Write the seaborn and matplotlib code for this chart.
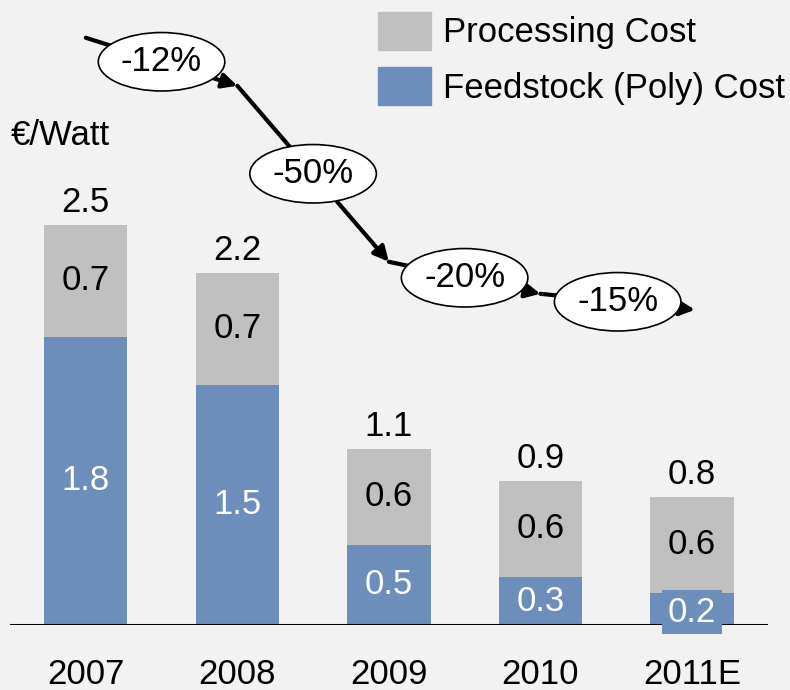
import numpy as np
import matplotlib
matplotlib.use("Agg")
import matplotlib.pyplot as plt
import seaborn as sns
import pandas as pd
from matplotlib.patches import Patch

# data
years = ["2007", "2008", "2009", "2010", "2011E"]
feedstock = [1.8, 1.5, 0.5, 0.3, 0.2]
processing = [0.7, 0.7, 0.6, 0.6, 0.6]
totals = [2.5, 2.2, 1.1, 0.9, 0.8]
changes = ["-12%", "-50%", "-20%", "-15%"]

bg = "#f2f2f2"
gray = "#c0c0c0"
blue = "#6d8dbb"

sns.set_style("white")
plt.rcParams["font.family"] = ["Liberation Sans", "DejaVu Sans"]
plt.rcParams["text.color"] = "black"
plt.rcParams["xtick.color"] = "black"

df = pd.DataFrame({"year": years, "feed": feedstock, "proc": processing, "total": totals})

fig = plt.figure(figsize=(7.9, 6.9), dpi=100, facecolor=bg)
ax = fig.add_axes([0.0127, 0.0942, 0.959, 0.9058])
ax.set_facecolor(bg)

# stacked bars: total in gray, feedstock over it in blue
sns.barplot(data=df, x="year", y="total", color=gray, width=0.55, saturation=1,
            linewidth=0, ax=ax)
sns.barplot(data=df, x="year", y="feed", color=blue, width=0.55, saturation=1,
            linewidth=0, ax=ax)

ax.set_xlim(-0.5, 4.5)
ax.set_ylim(0, 3.906)
ax.axhline(0, color="black", lw=2.2, zorder=5)
for s in ax.spines.values():
    s.set_visible(False)
ax.set_yticks([])
ax.set_xlabel("")
ax.set_ylabel("")
ax.tick_params(axis="x", length=0, pad=24, labelsize=25, labelcolor="black")

fs = 25
for i in range(len(years)):
    f, p, t = feedstock[i], processing[i], totals[i]
    ax.annotate(f"{t:.1f}", (i, t), xytext=(0, 4), textcoords="offset points",
                ha="center", va="bottom", fontsize=fs)
    ax.text(i, f + p / 2, f"{p:.1f}", ha="center", va="center", fontsize=fs)
    if f < 0.25:
        ax.text(i, f / 2 - 0.02, f"{f:.1f}", ha="center", va="center", fontsize=fs,
                color="white", zorder=6,
                bbox=dict(boxstyle="square,pad=0.16", fc=blue, ec="none"))
    else:
        ax.text(i, f / 2, f"{f:.1f}", ha="center", va="center", fontsize=fs, color="white")

# trend arrows with ellipse labels
offset = 1.17
pts = [(i, t + offset) for i, t in enumerate(totals)]
for k, lab in enumerate(changes):
    (x0, y0), (x1, y1) = pts[k], pts[k + 1]
    if k == len(changes) - 1:
        x1 += 0.02
    ax.annotate("", xy=(x1, y1), xytext=(x0, y0),
                arrowprops=dict(arrowstyle="-|>", lw=3, color="black",
                                mutation_scale=22, shrinkA=0, shrinkB=0),
                zorder=7, annotation_clip=False)
    ax.text((x0 + x1) / 2, (y0 + y1) / 2, lab, ha="center", va="center", fontsize=fs,
            zorder=8, bbox=dict(boxstyle="ellipse,pad=0.12", fc="white", ec="black", lw=1.2))

ax.text(0.014, 0.804, "€/Watt", transform=fig.transFigure, fontsize=fs, va="center")

handles = [Patch(color=gray, label="Processing Cost"),
           Patch(color=blue, label="Feedstock (Poly) Cost")]
fig.legend(handles=handles, loc="upper right", bbox_to_anchor=(1.024, 1.018),
           frameon=False, fontsize=fs, handlelength=1.5, handleheight=1.3,
           handletextpad=0.35, labelspacing=0.5, borderaxespad=0.3)

fig.savefig("out.png", dpi=100, facecolor=bg)
